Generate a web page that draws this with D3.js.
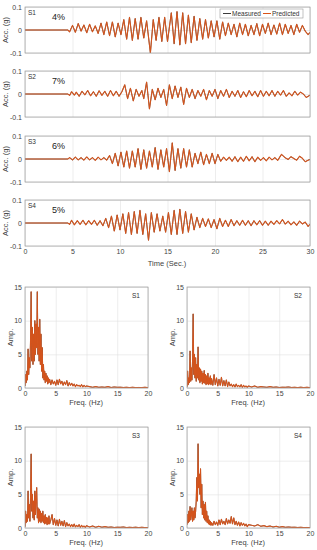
<!DOCTYPE html>
<html><head><meta charset="utf-8">
<script src="https://cdn.jsdelivr.net/npm/d3@7"></script>
<style>
body{margin:0;background:#fff}
svg{display:block;font-family:"Liberation Sans",Arial,sans-serif}
</style>
</head><body>
<svg id="chart" width="317" height="550"></svg>
<script>
const accS1 = [[0,0],[4.5,0],[4.7,-0.008],[5.0,0.02],[5.3,-0.01],[5.6,0.028],[5.9,-0.005],[6.2,0.022],[6.5,-0.012],[6.8,0.025],[7.1,-0.008],[7.4,0.018],[7.7,-0.015],[8.0,0.03],[8.3,-0.02],[8.6,0.035],[8.9,-0.025],[9.2,0.035],[9.5,-0.03],[9.8,0.03],[10.1,-0.02],[10.4,0.045],[10.7,-0.04],[11.0,0.055],[11.3,-0.045],[11.6,0.05],[11.9,-0.04],[12.2,0.055],[12.5,-0.035],[12.8,0.04],[13.2,-0.1],[13.5,0.045],[13.8,-0.045],[14.1,0.055],[14.4,-0.05],[14.7,0.055],[15.0,-0.05],[15.4,0.075],[15.7,-0.06],[16.0,0.08],[16.3,-0.065],[16.6,0.075],[16.9,-0.06],[17.2,0.065],[17.5,-0.055],[17.8,0.06],[18.1,-0.045],[18.4,0.05],[18.7,-0.04],[19.0,0.045],[19.3,-0.035],[19.6,0.04],[19.9,-0.03],[20.2,0.04],[20.5,-0.04],[20.8,0.035],[21.1,-0.025],[21.4,0.03],[21.7,-0.02],[22.0,0.025],[22.3,-0.03],[22.6,0.03],[22.9,-0.02],[23.2,0.025],[23.5,-0.025],[23.8,0.02],[24.1,-0.02],[24.4,0.028],[24.7,-0.025],[25.0,0.025],[25.3,-0.015],[25.6,0.03],[25.9,-0.02],[26.2,0.022],[26.5,-0.018],[26.8,0.03],[27.1,-0.02],[27.4,0.025],[27.7,-0.015],[28.0,0.02],[28.3,-0.02],[28.6,0.025],[28.9,-0.01],[29.2,0.02],[29.5,-0.005],[29.8,-0.02],[30,-0.01]];
const accS2 = [[0,0],[4.5,0],[4.7,-0.006],[4.9,0.01],[5.2,-0.005],[5.4,0.008],[5.7,-0.01],[6.0,0.012],[6.3,-0.004],[6.6,0.015],[6.9,-0.008],[7.2,0.01],[7.5,-0.01],[7.8,0.014],[8.1,-0.006],[8.4,0.012],[8.7,-0.01],[9.0,0.015],[9.3,-0.008],[9.6,0.012],[9.9,-0.01],[10.2,0.01],[10.5,0.04],[10.8,-0.02],[11.1,0.025],[11.4,-0.03],[11.7,0.02],[12.0,-0.01],[12.3,0.015],[12.5,-0.02],[12.8,0.052],[13.1,-0.065],[13.4,0.02],[13.7,-0.025],[14.0,0.025],[14.3,-0.015],[14.6,0.02],[14.9,-0.05],[15.2,0.04],[15.5,-0.02],[15.8,0.035],[16.1,-0.015],[16.4,0.03],[16.7,-0.045],[17.0,0.025],[17.3,-0.015],[17.6,0.02],[17.9,-0.02],[18.2,0.015],[18.5,-0.01],[18.8,0.02],[19.1,-0.025],[19.4,0.015],[19.7,-0.01],[20.0,0.02],[20.3,-0.02],[20.6,0.015],[20.9,-0.01],[21.2,0.02],[21.5,-0.015],[21.8,0.012],[22.1,-0.01],[22.4,0.015],[22.7,-0.015],[23.0,0.01],[23.3,-0.012],[23.6,0.015],[23.9,-0.008],[24.2,0.012],[24.5,-0.012],[24.8,0.015],[25.1,-0.01],[25.4,0.012],[25.7,-0.008],[26.0,0.015],[26.3,-0.01],[26.6,0.012],[26.9,-0.005],[27.2,0.015],[27.5,-0.01],[27.8,0.005],[28.1,-0.008],[28.4,0.012],[28.7,-0.005],[29.0,0.008],[29.3,0.0],[29.6,-0.015],[30,-0.005]];
const accS3 = [[0,0],[4.5,0],[4.7,0.006],[5.0,-0.004],[5.3,0.008],[5.6,-0.004],[5.9,0.006],[6.2,-0.005],[6.5,0.009],[6.8,-0.004],[7.1,0.006],[7.4,-0.006],[7.7,0.008],[8.0,-0.004],[8.3,0.006],[8.6,-0.005],[8.9,0.015],[9.2,-0.02],[9.5,0.025],[9.8,-0.03],[10.1,0.03],[10.4,-0.035],[10.7,0.035],[11.0,-0.04],[11.3,0.035],[11.6,-0.035],[11.9,0.045],[12.2,-0.045],[12.5,0.04],[12.8,-0.04],[13.1,0.035],[13.4,-0.035],[13.7,0.05],[14.0,-0.045],[14.3,0.04],[14.6,-0.035],[14.9,0.045],[15.2,-0.055],[15.5,0.07],[15.8,-0.05],[16.1,0.045],[16.4,-0.04],[16.7,0.045],[17.0,-0.035],[17.3,0.04],[17.6,-0.035],[17.9,0.025],[18.2,-0.02],[18.5,0.03],[18.8,-0.025],[19.1,0.02],[19.4,-0.02],[19.7,0.025],[20.0,-0.02],[20.3,0.02],[20.6,-0.01],[20.9,0.008],[21.2,-0.006],[21.5,0.008],[21.8,-0.01],[22.1,0.01],[22.4,-0.012],[22.7,0.008],[23.0,-0.01],[23.3,0.012],[23.6,-0.008],[23.9,0.01],[24.2,-0.012],[24.5,0.008],[24.8,-0.006],[25.1,0.006],[25.4,-0.008],[25.7,0.008],[26.0,-0.004],[26.3,0.006],[26.6,-0.006],[27.0,0.02],[27.4,0.005],[27.7,-0.002],[28.0,0.01],[28.3,0.002],[28.6,-0.005],[28.9,0.012],[29.2,0.003],[29.5,-0.012],[29.8,-0.005],[30,-0.002]];
const accS4 = [[0,0],[4.5,0],[4.7,-0.006],[4.9,0.012],[5.2,-0.008],[5.5,0.01],[5.8,-0.006],[6.1,0.012],[6.4,-0.008],[6.7,0.01],[7.0,-0.006],[7.3,0.012],[7.6,-0.01],[7.9,0.01],[8.2,-0.012],[8.5,0.02],[8.8,-0.02],[9.1,0.03],[9.4,-0.035],[9.7,0.035],[10.0,-0.03],[10.3,0.04],[10.6,-0.045],[10.9,0.045],[11.2,-0.05],[11.5,0.05],[11.8,-0.045],[12.1,0.055],[12.4,-0.05],[12.7,0.04],[13.0,-0.075],[13.3,0.045],[13.6,-0.04],[13.9,0.04],[14.2,-0.035],[14.5,0.03],[14.8,-0.04],[15.1,0.045],[15.4,-0.05],[15.7,0.055],[16.0,-0.05],[16.3,0.06],[16.6,-0.045],[16.9,0.05],[17.2,-0.04],[17.5,0.04],[17.8,-0.03],[18.1,0.025],[18.4,-0.02],[18.7,0.02],[19.0,-0.015],[19.3,0.018],[19.6,-0.02],[19.9,0.015],[20.2,-0.025],[20.5,0.02],[20.8,-0.015],[21.1,0.012],[21.4,-0.015],[21.7,0.015],[22.0,-0.012],[22.3,0.01],[22.6,-0.01],[22.9,0.012],[23.2,-0.01],[23.5,0.01],[23.8,-0.012],[24.1,0.01],[24.4,-0.008],[24.7,0.01],[25.0,-0.01],[25.3,0.008],[25.6,-0.01],[25.9,0.008],[26.2,-0.006],[26.5,0.01],[26.8,-0.004],[27.1,0.015],[27.4,-0.005],[27.7,0.008],[28.0,-0.008],[28.3,0.005],[28.6,-0.01],[28.9,0.008],[29.2,-0.004],[29.5,0.004],[29.8,-0.015],[30,-0.005]];

const stories = ['S1', 'S2', 'S3', 'S4'];
const errors = ['4%', '7%', '6%', '5%'];
const accTicks = [-0.1, 0, 0.1];
const timeTicks = [0, 5, 10, 15, 20, 25, 30];

// Fourier amplitude spectra
const freqHz = [0,0.1,0.2,0.3,0.4,0.5,0.6,0.7,0.8,0.9,1.0,1.1,1.2,1.3,1.4,1.5,1.6,1.7,1.8,1.9,2.0,2.1,2.2,2.3,2.4,2.5,2.6,2.7,2.8,2.9,3.0,3.1,3.2,3.3,3.4,3.5,3.6,3.7,3.8,3.9,4.0,
  4.2,4.4,4.6,4.8,5.0,5.2,5.4,5.6,5.8,6.0,6.2,6.4,6.6,6.8,7.0,7.2,7.4,7.6,7.8,8.0,8.2,8.4,8.6,8.8,9.0,9.2,9.4,9.6,9.8,10.0,
  10.5,11,11.5,12,12.5,13,13.5,14,14.5,15,15.5,16,16.5,17,17.5,18,18.5,19,19.5,20];
const ampS1 = [0.3,2.0,0.8,2.5,1.2,5.8,2.0,4.5,3.0,7.0,14.3,4.0,9.0,3.5,8.0,4.0,10.0,5.0,9.5,6.0,14.3,5.0,9.0,4.0,10.2,3.5,8.0,2.5,6.0,1.5,3.5,1.2,2.5,0.8,2.2,1.0,1.8,0.6,1.5,0.8,1.3,
  0.5,1.2,0.6,1.0,0.4,1.2,0.5,1.3,0.6,1.0,0.4,0.9,0.5,1.1,0.3,0.8,0.4,0.7,0.3,0.6,0.2,0.5,0.3,0.4,0.2,0.5,0.15,0.4,0.2,0.3,
  0.2,0.1,0.2,0.1,0.15,0.1,0.2,0.08,0.15,0.1,0.12,0.08,0.1,0.06,0.1,0.05,0.08,0.06,0.1,0.05];
const ampS2 = [0.2,2.5,0.5,1.5,0.8,5.5,1.0,3.0,1.2,4.0,11.0,2.0,5.0,1.5,4.5,1.0,3.5,1.5,6.1,1.2,3.0,0.8,2.8,1.0,2.5,0.6,2.2,0.8,2.6,0.7,2.0,0.5,1.8,0.6,2.2,0.5,1.5,0.6,1.8,0.5,1.4,
  0.4,2.0,0.5,1.5,0.3,1.3,0.4,1.6,0.3,1.1,0.3,1.2,0.2,0.9,0.3,0.6,0.2,0.5,0.15,0.6,0.2,0.4,0.15,0.5,0.1,0.4,0.15,0.3,0.1,0.3,
  0.15,0.3,0.1,0.2,0.15,0.1,0.2,0.1,0.15,0.08,0.12,0.1,0.15,0.08,0.1,0.06,0.12,0.05,0.1,0.05];
const ampS3 = [0.2,2.5,0.8,2.0,1.0,5.5,1.5,3.5,1.0,4.5,11.0,2.5,5.0,1.5,4.0,1.2,5.5,2.0,4.5,6.0,1.5,3.0,0.8,2.8,1.0,2.5,0.8,2.2,1.0,2.5,0.8,1.8,0.6,2.0,0.7,1.6,0.5,1.5,0.6,1.8,0.6,
  1.2,2.0,0.5,1.4,0.4,1.2,0.3,1.3,0.4,1.0,0.3,1.1,0.2,0.8,0.3,0.6,0.2,0.5,0.2,0.6,0.15,0.4,0.2,0.5,0.1,0.4,0.15,0.3,0.1,0.35,
  0.15,0.3,0.1,0.25,0.12,0.2,0.1,0.15,0.08,0.12,0.1,0.15,0.06,0.1,0.08,0.12,0.05,0.1,0.06,0.05];
const ampS4 = [0.5,2.0,0.8,2.5,1.0,3.2,1.2,2.0,3.0,1.0,2.5,1.2,3.0,1.5,2.5,4.0,7.5,4.0,12.5,6.0,8.0,5.0,8.8,3.0,6.5,2.0,4.0,1.5,3.5,1.2,3.8,1.0,2.5,0.8,1.8,0.6,1.2,0.5,1.0,0.4,0.8,
  0.4,1.0,0.5,0.9,0.4,1.2,0.5,1.3,0.6,1.0,0.5,1.4,0.6,1.2,0.7,1.7,0.6,1.5,0.5,1.0,0.4,0.9,0.3,0.8,0.4,0.7,0.3,0.6,0.2,0.5,
  0.4,0.3,0.5,0.25,0.35,0.2,0.3,0.15,0.25,0.12,0.2,0.1,0.15,0.1,0.12,0.08,0.1,0.06,0.08,0.05];
const freqTicks = [0, 5, 10, 15, 20];
const ampTicks = [0, 5, 10, 15];

const measuredColor = '#3c3c3c';
const predictedColor = '#d95319';
const svg = d3.select('#chart');

function drawPanel(o) {
    const g = svg.append('g').attr('transform', `translate(${o.left},${o.top})`);
    const x = d3.scaleLinear().domain(o.xDomain).range([0, o.w]);
    const y = d3.scaleLinear().domain(o.yDomain).range([o.h, 0]);

    const xa = g.append('g').attr('transform', `translate(0,${o.h})`)
        .call(d3.axisBottom(x).tickValues(o.xTicks).tickSize(-o.h).tickPadding(3)
            .tickFormat(o.showX ? d => d : ''));
    const ya = g.append('g')
        .call(d3.axisLeft(y).tickValues(o.yTicks).tickSize(-o.w).tickPadding(3).tickFormat(d => d));
    [xa, ya].forEach(a => {
        a.select('.domain').remove();
        a.selectAll('line').attr('stroke', '#e0e0e0').attr('stroke-width', 0.6);
        a.selectAll('text').attr('fill', '#444').style('font-size', '7px');
    });

    const clipId = 'clip' + o.id;
    g.append('clipPath').attr('id', clipId).append('rect').attr('width', o.w).attr('height', o.h);
    const line = d3.line().x(d => x(d[0])).y(d => y(d[1]));
    const lines = g.append('g').attr('clip-path', `url(#${clipId})`);
    // measured sits underneath, the prediction nearly covers it
    lines.append('path').datum(o.data).attr('d', line)
        .attr('fill', 'none').attr('stroke', measuredColor).attr('stroke-width', 0.8);
    lines.append('path').datum(o.data).attr('d', line)
        .attr('fill', 'none').attr('stroke', predictedColor).attr('stroke-width', 1.1)
        .attr('stroke-opacity', 0.95).attr('stroke-linejoin', 'round');

    g.append('rect').attr('width', o.w).attr('height', o.h)
        .attr('fill', 'none').attr('stroke', '#9a9a9a').attr('stroke-width', 0.7);

    g.append('text').attr('transform', `translate(${o.yLabelX},${o.h / 2}) rotate(-90)`)
        .attr('text-anchor', 'middle').attr('fill', '#444').style('font-size', '7.5px').text(o.yLabel);
    return {g, x, y};
}

// time histories
const topRows = [7, 71, 136, 200];
const accData = [accS1, accS2, accS3, accS4];
stories.forEach((s, i) => {
    const p = drawPanel({
        id: 't' + i, left: 25, top: topRows[i], w: 285, h: 46,
        xDomain: [0, 30], yDomain: [-0.1, 0.1], xTicks: timeTicks, yTicks: accTicks,
        showX: i === 3, data: accData[i], yLabel: 'Acc. (g)', yLabelX: -17
    });
    p.g.append('text').attr('x', 3).attr('y', 8).attr('fill', '#333').style('font-size', '6.5px').text(s);
    p.g.append('text').attr('x', 27).attr('y', 13).attr('fill', '#222').style('font-size', '9px').text(errors[i]);
    if (i === 3) {
        p.g.append('text').attr('x', 142).attr('y', 66).attr('text-anchor', 'middle')
            .attr('fill', '#444').style('font-size', '7.5px').text('Time (Sec.)');
    }
    if (i === 0) {
        const lg = p.g.append('g').attr('transform', 'translate(195,2)');
        lg.append('rect').attr('width', 83).attr('height', 9).attr('fill', '#fff')
            .attr('stroke', '#9a9a9a').attr('stroke-width', 0.6);
        lg.append('line').attr('x1', 3).attr('x2', 11).attr('y1', 4.5).attr('y2', 4.5)
            .attr('stroke', measuredColor).attr('stroke-width', 1);
        lg.append('text').attr('x', 12).attr('y', 7).attr('fill', '#333').style('font-size', '6.5px').text('Measured');
        lg.append('line').attr('x1', 43).attr('x2', 51).attr('y1', 4.5).attr('y2', 4.5)
            .attr('stroke', predictedColor).attr('stroke-width', 1);
        lg.append('text').attr('x', 52).attr('y', 7).attr('fill', '#333').style('font-size', '6.5px').text('Predicted');
    }
});

// spectra
const specPos = [[25, 287], [187, 287], [25, 427], [187, 427]];
const ampData = [ampS1, ampS2, ampS3, ampS4];
stories.forEach((s, i) => {
    const pts = freqHz.map((f, k) => [f, ampData[i][k]]);
    const p = drawPanel({
        id: 'f' + i, left: specPos[i][0], top: specPos[i][1], w: 123, h: 101,
        xDomain: [0, 20], yDomain: [0, 15], xTicks: freqTicks, yTicks: ampTicks,
        showX: true, data: pts, yLabel: 'Amp.', yLabelX: -12
    });
    p.g.append('text').attr('x', 107).attr('y', 11).attr('fill', '#333').style('font-size', '6.5px').text(s);
    p.g.append('text').attr('x', 61).attr('y', 118).attr('text-anchor', 'middle')
        .attr('fill', '#444').style('font-size', '7.5px').text('Freq. (Hz)');
});
</script>
</body></html>
